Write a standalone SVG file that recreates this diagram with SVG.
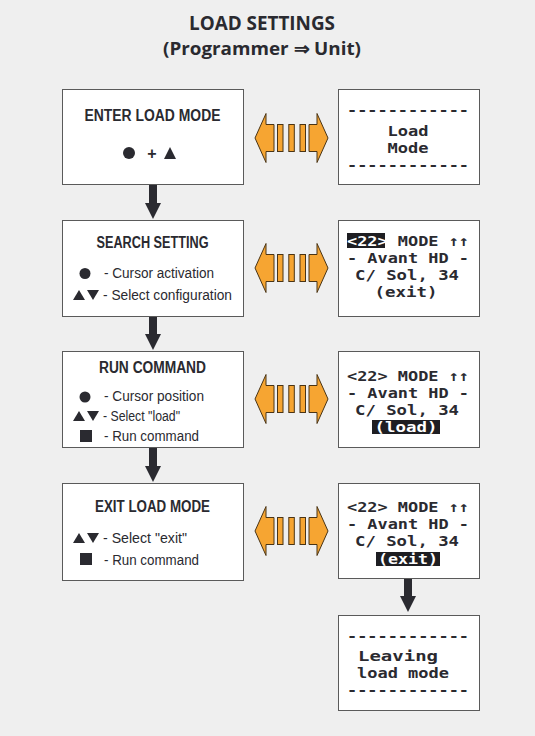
<svg xmlns="http://www.w3.org/2000/svg" width="535" height="736" viewBox="0 0 535 736">
<style>
.bg{fill:#efefef}
.box{fill:#ffffff;stroke:#5a5a5a;stroke-width:1}
.title{font-family:"Open Sans","Noto Sans",sans-serif;font-weight:bold;fill:#2a2a30;text-anchor:middle}
.head{font-family:"Liberation Sans",Arial,sans-serif;font-weight:bold;font-size:16px;fill:#2a2a30;text-anchor:middle}
.body{font-family:"Liberation Sans",Arial,sans-serif;font-size:14px;fill:#2a2a30}
.sym{fill:#2a2a30}
.lcd{font-family:"DejaVu Sans Mono","Liberation Mono",monospace;font-weight:bold;font-size:14.5px;fill:#2a2a30}
.inv{fill:#ffffff}
.hl{fill:#1e1e22}
.conn{stroke:#2a2a30;stroke-width:8;fill:none}
.orange{fill:#f6a532;stroke:#4a3415;stroke-width:1;stroke-linejoin:miter}
</style>
<defs>
<marker id="ah" viewBox="0 0 16 16" markerWidth="16" markerHeight="16" markerUnits="userSpaceOnUse" refX="0" refY="8" orient="auto">
<path d="M0,0 L16,8 L0,16 z" fill="#2a2a30"/>
</marker>
<g id="dbl">
<polygon class="orange" points="255,0 266,-24.5 266,-13.5 274,-13.5 274,13.5 266,13.5 266,24.5"/>
<rect class="orange" x="277.5" y="-13.5" width="5.5" height="27"/>
<rect class="orange" x="288.8" y="-13.5" width="5.5" height="27"/>
<rect class="orange" x="300" y="-13.5" width="5.5" height="27"/>
<polygon class="orange" points="328,0 317,-24.5 317,-13.5 309,-13.5 309,13.5 317,13.5 317,24.5"/>
</g>
</defs>
<rect class="bg" x="0" y="0" width="535" height="736"/>

<g id="title">
<text class="title" x="262" y="30" font-size="20" textLength="146" lengthAdjust="spacingAndGlyphs">LOAD SETTINGS</text>
<text class="title" x="262" y="55" font-size="18" textLength="198" lengthAdjust="spacingAndGlyphs">(Programmer ⇒ Unit)</text>
</g>

<g id="connectors">
<line class="conn" x1="153" y1="184" x2="153" y2="203" marker-end="url(#ah)"/>
<line class="conn" x1="153" y1="316" x2="153" y2="334" marker-end="url(#ah)"/>
<line class="conn" x1="153" y1="447" x2="153" y2="466" marker-end="url(#ah)"/>
<line class="conn" x1="408" y1="578" x2="408" y2="596" marker-end="url(#ah)"/>
<use href="#dbl" transform="translate(0,138)"/>
<use href="#dbl" transform="translate(0,268)"/>
<use href="#dbl" transform="translate(0,399)"/>
<use href="#dbl" transform="translate(0,531)"/>
</g>

<g id="enter-load-mode">
<rect class="box" x="62.5" y="89.5" width="181" height="95"/>
<text class="head" x="152.5" y="121" font-size="16.5" textLength="136" lengthAdjust="spacingAndGlyphs">ENTER LOAD MODE</text>
<circle class="sym" cx="129" cy="153" r="6"/>
<text class="head" x="152" y="158.5" font-size="16">+</text>
<polygon class="sym" points="164,159 170,147 176,159"/>
</g>

<g id="search-setting">
<rect class="box" x="62.5" y="220.5" width="181" height="96"/>
<text class="head" x="152.5" y="248" textLength="112" lengthAdjust="spacingAndGlyphs">SEARCH SETTING</text>
<circle class="sym" cx="85" cy="273.5" r="5.5"/>
<text class="body" x="104" y="278" textLength="110" lengthAdjust="spacingAndGlyphs">- Cursor activation</text>
<polygon class="sym" points="73,300 79,290 85,300"/>
<polygon class="sym" points="87,290 99,290 93,300"/>
<text class="body" x="103" y="300" textLength="129" lengthAdjust="spacingAndGlyphs">- Select configuration</text>
</g>

<g id="run-command">
<rect class="box" x="62.5" y="351.5" width="181" height="96"/>
<text class="head" x="152.5" y="373" textLength="107" lengthAdjust="spacingAndGlyphs">RUN COMMAND</text>
<circle class="sym" cx="85" cy="397" r="5.5"/>
<text class="body" x="104" y="401" textLength="100" lengthAdjust="spacingAndGlyphs">- Cursor position</text>
<polygon class="sym" points="73,421 79,411 85,421"/>
<polygon class="sym" points="87,411 99,411 93,421"/>
<text class="body" x="103" y="421" textLength="77" lengthAdjust="spacingAndGlyphs">- Select "load"</text>
<rect class="sym" x="80" y="430" width="12" height="12"/>
<text class="body" x="104" y="441" textLength="95" lengthAdjust="spacingAndGlyphs">- Run command</text>
</g>

<g id="exit-load-mode">
<rect class="box" x="62.5" y="483.5" width="181" height="97"/>
<text class="head" x="152.5" y="512" textLength="115" lengthAdjust="spacingAndGlyphs">EXIT LOAD MODE</text>
<polygon class="sym" points="73,543 79,533 85,543"/>
<polygon class="sym" points="87,533 99,533 93,543"/>
<text class="body" x="103" y="543" textLength="84" lengthAdjust="spacingAndGlyphs">- Select "exit"</text>
<rect class="sym" x="80" y="553" width="12" height="12"/>
<text class="body" x="104" y="565" textLength="95" lengthAdjust="spacingAndGlyphs">- Run command</text>
</g>

<g id="lcd-load-mode">
<rect class="box" x="338.5" y="89.5" width="141" height="95"/>
<text class="lcd" x="347" y="115" textLength="122" lengthAdjust="spacingAndGlyphs">------------</text>
<text class="lcd" x="408" y="136" text-anchor="middle" textLength="41" lengthAdjust="spacingAndGlyphs">Load</text>
<text class="lcd" x="408" y="153" text-anchor="middle" textLength="41" lengthAdjust="spacingAndGlyphs">Mode</text>
<text class="lcd" x="347" y="170" textLength="122" lengthAdjust="spacingAndGlyphs">------------</text>
</g>

<g id="lcd-search">
<rect class="box" x="338.5" y="220.5" width="141" height="96"/>
<rect class="hl" x="347" y="233" width="38" height="15"/>
<text class="lcd" x="347" y="246" textLength="122" lengthAdjust="spacingAndGlyphs" xml:space="preserve"><tspan class="inv">&lt;22&gt;</tspan> MODE ↑↑</text>
<text class="lcd" x="347" y="263" textLength="122" lengthAdjust="spacingAndGlyphs" xml:space="preserve">- Avant HD -</text>
<text class="lcd" x="407" y="280" text-anchor="middle" textLength="104" lengthAdjust="spacingAndGlyphs">C/ Sol, 34</text>
<text class="lcd" x="406" y="297" text-anchor="middle" textLength="63" lengthAdjust="spacingAndGlyphs">(exit)</text>
</g>

<g id="lcd-run">
<rect class="box" x="338.5" y="351.5" width="141" height="96"/>
<text class="lcd" x="347" y="381" textLength="122" lengthAdjust="spacingAndGlyphs" xml:space="preserve">&lt;22&gt; MODE ↑↑</text>
<text class="lcd" x="347" y="398" textLength="122" lengthAdjust="spacingAndGlyphs" xml:space="preserve">- Avant HD -</text>
<text class="lcd" x="407" y="415" text-anchor="middle" textLength="104" lengthAdjust="spacingAndGlyphs">C/ Sol, 34</text>
<rect class="hl" x="372" y="420" width="68" height="14"/>
<text class="lcd inv" x="406" y="432" text-anchor="middle" textLength="63" lengthAdjust="spacingAndGlyphs">(load)</text>
</g>

<g id="lcd-exit">
<rect class="box" x="338.5" y="483.5" width="141" height="95"/>
<text class="lcd" x="347" y="512" textLength="122" lengthAdjust="spacingAndGlyphs" xml:space="preserve">&lt;22&gt; MODE ↑↑</text>
<text class="lcd" x="347" y="529" textLength="122" lengthAdjust="spacingAndGlyphs" xml:space="preserve">- Avant HD -</text>
<text class="lcd" x="407" y="546" text-anchor="middle" textLength="104" lengthAdjust="spacingAndGlyphs">C/ Sol, 34</text>
<rect class="hl" x="376" y="552" width="64" height="14"/>
<text class="lcd inv" x="408" y="564" text-anchor="middle" textLength="60" lengthAdjust="spacingAndGlyphs">(exit)</text>
</g>

<g id="lcd-leaving">
<rect class="box" x="338.5" y="615.5" width="141" height="95"/>
<text class="lcd" x="347" y="641" textLength="122" lengthAdjust="spacingAndGlyphs">------------</text>
<text class="lcd" x="358" y="661" textLength="80" lengthAdjust="spacingAndGlyphs">Leaving</text>
<text class="lcd" x="357" y="678" textLength="92" lengthAdjust="spacingAndGlyphs">load mode</text>
<text class="lcd" x="347" y="695" textLength="122" lengthAdjust="spacingAndGlyphs">------------</text>
</g>
</svg>
